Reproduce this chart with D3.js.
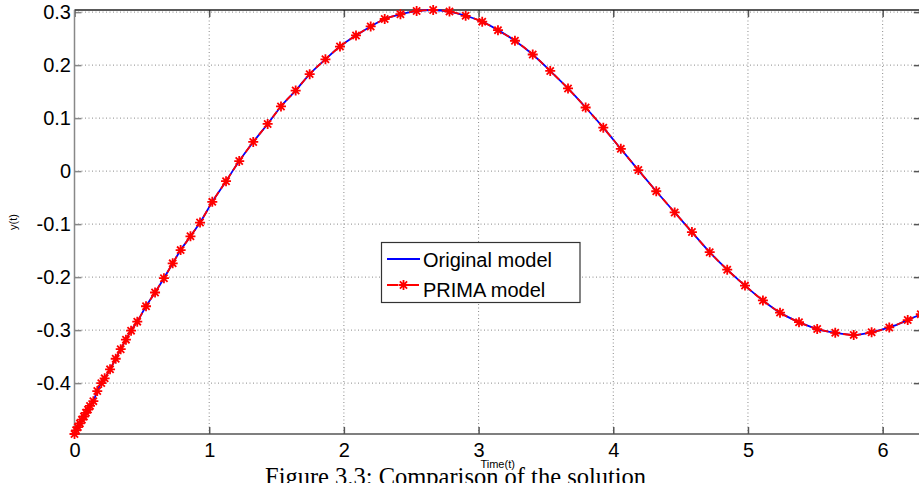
<!DOCTYPE html>
<html>
<head>
<meta charset="utf-8">
<script src="https://cdn.jsdelivr.net/npm/d3@7"></script>
<style>
  body { margin: 0; background: #fff; }
  svg { display: block; }
</style>
</head>
<body>
<svg id="chart" width="919" height="483"></svg>
<script>
// ---- data ----
const tValues = [
  0, 0.012, 0.025, 0.04, 0.055, 0.07, 0.085, 0.1, 0.115, 0.140,
  0.169, 0.199, 0.224, 0.264, 0.306, 0.343, 0.382, 0.420, 0.466, 0.531,
  0.598, 0.664, 0.729, 0.788, 0.861, 0.932, 1.023, 1.125, 1.223, 1.327,
  1.434, 1.533, 1.642, 1.746, 1.863, 1.971, 2.090, 2.199, 2.303, 2.420,
  2.540, 2.663, 2.784, 2.904, 3.027, 3.144, 3.270, 3.402, 3.532, 3.664,
  3.795, 3.926, 4.056, 4.186, 4.319, 4.456, 4.584, 4.716, 4.846, 4.978,
  5.111, 5.238, 5.379, 5.514, 5.648, 5.785, 5.918, 6.049, 6.186, 6.283
];
const primaY = [
  -0.496, -0.489, -0.483, -0.476, -0.469, -0.463, -0.456, -0.450, -0.443, -0.434,
  -0.415, -0.400, -0.391, -0.374, -0.354, -0.336, -0.318, -0.301, -0.284, -0.255,
  -0.229, -0.202, -0.174, -0.149, -0.123, -0.097, -0.058, -0.019, 0.019, 0.055,
  0.089, 0.122, 0.152, 0.183, 0.211, 0.235, 0.256, 0.273, 0.287, 0.296,
  0.302, 0.304, 0.301, 0.293, 0.282, 0.266, 0.246, 0.220, 0.189, 0.156,
  0.120, 0.082, 0.042, 0.002, -0.038, -0.078, -0.115, -0.153, -0.186, -0.216,
  -0.244, -0.267, -0.285, -0.298, -0.305, -0.309, -0.304, -0.295, -0.281, -0.270
];
const originalY = primaY.slice();   // the original model overlaps the PRIMA curve
const xTicks = [0, 1, 2, 3, 4, 5, 6];
const yTicks = [-0.4, -0.3, -0.2, -0.1, 0, 0.1, 0.2, 0.3];
const yTickLabels = ["-0.4", "-0.3", "-0.2", "-0.1", "0", "0.1", "0.2", "0.3"];
const seriesNames = ["Original model", "PRIMA model"];
const axisLabels = { x: "Time(t)", y: "y(t)" };
const caption = "Figure 3.3: Comparison of the solution";

// ---- layout ----
const L = 74.5, R = 920.8, T = 10, B = 434;
const svg = d3.select("#chart");
const font = "'Liberation Sans', Arial, Helvetica, sans-serif";

const x = d3.scaleLinear().domain([0, 2 * Math.PI]).range([L, R]);
const y = d3.scaleLinear().domain(d3.extent(primaY)).range([B, T]);

// grid
const grid = svg.append("g").attr("stroke", "#8a8a8a").attr("stroke-width", 1)
  .attr("stroke-dasharray", "1,2.5");
grid.selectAll("line.v").data(xTicks.filter(d => d > 0)).join("line")
  .attr("x1", d => x(d)).attr("x2", d => x(d)).attr("y1", T).attr("y2", B);
grid.selectAll("line.h").data(yTicks).join("line")
  .attr("y1", d => y(d)).attr("y2", d => y(d)).attr("x1", L).attr("x2", R);

// axes
const fmt = d => yTickLabels[yTicks.indexOf(d)];
const gLeft = svg.append("g").attr("transform", `translate(${L},0)`)
  .call(d3.axisLeft(y).tickValues(yTicks).tickFormat(fmt).tickSize(-7).tickSizeOuter(0).tickPadding(3.5));
const gRight = svg.append("g").attr("transform", `translate(${R},0)`)
  .call(d3.axisRight(y).tickValues(yTicks).tickFormat("").tickSize(-7).tickSizeOuter(0));
const gBottom = svg.append("g").attr("transform", `translate(0,${B})`)
  .call(d3.axisBottom(x).tickValues(xTicks).tickFormat(d3.format("d")).tickSize(-7).tickSizeOuter(0).tickPadding(9));
const gTop = svg.append("g").attr("transform", `translate(0,${T})`)
  .call(d3.axisTop(x).tickValues(xTicks).tickFormat("").tickSize(-7).tickSizeOuter(0));
[gLeft, gRight, gBottom, gTop].forEach(g => {
  g.select(".domain").remove();
  g.selectAll(".tick line").attr("stroke", "#555").attr("stroke-width", 1.5);
  g.selectAll("text").attr("font-family", font).attr("font-size", 20).attr("fill", "#000");
});
gLeft.selectAll(".tick line").attr("stroke", "#888");

// box
svg.append("line").attr("x1", L).attr("x2", R).attr("y1", T).attr("y2", T).attr("stroke", "#222").attr("stroke-width", 1.5);
svg.append("line").attr("x1", L).attr("x2", R).attr("y1", B).attr("y2", B).attr("stroke", "#555").attr("stroke-width", 1.5);
svg.append("line").attr("x1", L).attr("x2", L).attr("y1", T).attr("y2", B).attr("stroke", "#888").attr("stroke-width", 1.5);
svg.append("line").attr("x1", R).attr("x2", R).attr("y1", T).attr("y2", B).attr("stroke", "#555").attr("stroke-width", 1.5);

// series
const origData = tValues.map((t, i) => [t, originalY[i]]);
const primaData = tValues.map((t, i) => [t, primaY[i]]);
const line = d3.line().x(d => x(d[0])).y(d => y(d[1])).curve(d3.curveMonotoneX);

svg.append("path").datum(origData).attr("d", line)
  .attr("fill", "none").attr("stroke", "#0000ff").attr("stroke-width", 1.8);
svg.append("path").datum(primaData).attr("d", line)
  .attr("fill", "none").attr("stroke", "#ff0000").attr("stroke-width", 1.8)
  .attr("stroke-dasharray", "7,4");

const star = "M-5,0H5M0,-5V5M-3.6,-3.6L3.6,3.6M-3.6,3.6L3.6,-3.6";
svg.append("g").selectAll("path").data(primaData).join("path")
  .attr("transform", d => `translate(${x(d[0])},${y(d[1])})`)
  .attr("d", star).attr("fill", "none").attr("stroke", "#ff0000").attr("stroke-width", 1.8);

// axis labels
svg.append("text").attr("x", (L + R) / 2).attr("y", 468).attr("text-anchor", "middle")
  .attr("font-family", font).attr("font-size", 11).text(axisLabels.x);
svg.append("text").attr("transform", `translate(17,${(T + B) / 2}) rotate(-90)`).attr("text-anchor", "middle")
  .attr("font-family", font).attr("font-size", 11).text(axisLabels.y);

// legend
const lg = svg.append("g");
lg.append("rect").attr("x", 381.5).attr("y", 242.5).attr("width", 198.5).attr("height", 60)
  .attr("fill", "#fff").attr("stroke", "#333").attr("stroke-width", 1.2);
lg.append("line").attr("x1", 387).attr("x2", 420).attr("y1", 259).attr("y2", 259)
  .attr("stroke", "#0000ff").attr("stroke-width", 1.8);
lg.append("line").attr("x1", 387).attr("x2", 420).attr("y1", 285).attr("y2", 285)
  .attr("stroke", "#ff0000").attr("stroke-width", 1.8).attr("stroke-dasharray", "11,10");
lg.append("path").attr("transform", "translate(403.5,285)").attr("d", star)
  .attr("fill", "none").attr("stroke", "#ff0000").attr("stroke-width", 1.8);
lg.selectAll("text").data(seriesNames).join("text")
  .attr("x", 423).attr("y", (d, i) => 266.5 + i * 30)
  .attr("font-family", font).attr("font-size", 20).text(d => d);

// caption
svg.append("text").attr("x", 265).attr("y", 485).attr("font-family", "'Liberation Serif', 'Times New Roman', serif")
  .attr("font-size", 24.5).text(caption);
</script>
</body>
</html>
